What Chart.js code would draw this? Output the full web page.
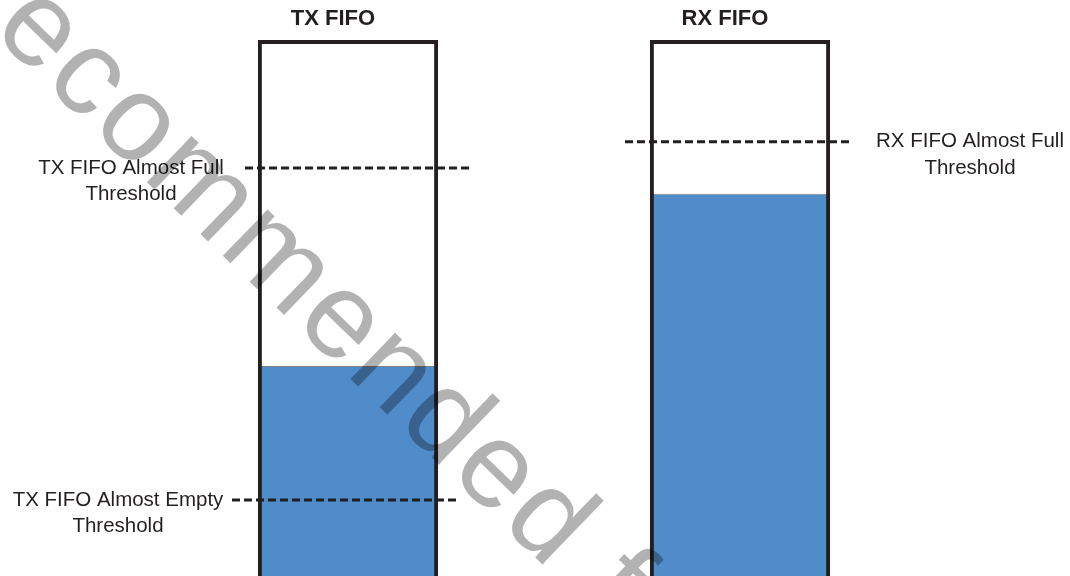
<!DOCTYPE html>
<html>
<head>
<meta charset="utf-8">
<title>TX / RX FIFO thresholds</title>
<style>
  html, body { margin: 0; padding: 0; background: #fff; overflow: hidden; }
</style>
</head>
<body>
<canvas id="fifoChart" width="1070" height="576"></canvas>
<script src="https://cdn.jsdelivr.net/npm/chart.js@4/dist/chart.umd.min.js"></script>
<script>
// data (units: % of the visible FIFO depth)
const fifoNames = ['TX FIFO', 'RX FIFO'];
const fifoDepth = [100, 100];
const fillLevel = [39.2, 71.3];

const thresholdFifo = [0, 0, 1];
const thresholdValues = [76.1, 14.2, 81.0];
const thresholdLabels = [
  ['TX FIFO Almost Full', 'Threshold'],
  ['TX FIFO Almost Empty', 'Threshold'],
  ['RX FIFO Almost Full', 'Threshold']
];

const watermark = 'Not recommended for new designs';

// layout only
const lineShift = [9.5, -3.5, -2.5];
const labelShift = [-217, -230, 230];
const ink = '#231f20';

const thresholdPlugin = {
  id: 'thresholds',
  afterDatasetsDraw(chart) {
    const ctx = chart.ctx;
    const meta = chart.getDatasetMeta(1);
    const yScale = chart.scales.y;
    ctx.save();
    thresholdValues.forEach((v, i) => {
      const bar = meta.data[thresholdFifo[i]];
      const py = yScale.getPixelForValue(v);
      const cx = bar.x + lineShift[i];
      ctx.setLineDash([8, 4]);
      ctx.lineWidth = 3;
      ctx.strokeStyle = ink;
      ctx.beginPath();
      ctx.moveTo(cx - 112.5, py);
      ctx.lineTo(cx + 112.5, py);
      ctx.stroke();

      ctx.setLineDash([]);
      ctx.fillStyle = ink;
      ctx.font = '20.5px "Liberation Sans", Arial, sans-serif';
      ctx.textAlign = 'center';
      ctx.textBaseline = 'middle';
      thresholdLabels[i].forEach((t, j) => {
        ctx.fillText(t, bar.x + labelShift[i], py + j * 26.5);
      });
    });
    ctx.restore();
  }
};

const watermarkPlugin = {
  id: 'watermark',
  afterDraw(chart) {
    const ctx = chart.ctx;
    ctx.save();
    ctx.translate(-214, -166);
    ctx.rotate(44 * Math.PI / 180);
    ctx.font = '122px "Liberation Sans", Arial, sans-serif';
    ctx.letterSpacing = '4px';
    ctx.fillStyle = 'rgba(0,0,0,0.3)';
    ctx.textBaseline = 'alphabetic';
    ctx.fillText(watermark, 0, 0);
    ctx.restore();
  }
};

const ctx = document.querySelector('#fifoChart');

const fifoChart = new Chart(ctx, {
  type: 'bar',
  data: {
    labels: fifoNames,
    datasets: [{
      label: 'Fill level',
      data: fillLevel,
      backgroundColor: '#518cca',
      borderColor: '#808080',
      borderWidth: { top: 1, left: 0, right: 0, bottom: 0 },
      borderSkipped: 'bottom',
      grouped: false,
      order: 2,
      barPercentage: 0.46,
      categoryPercentage: 1
    }, {
      label: 'FIFO depth',
      data: fifoDepth,
      backgroundColor: 'rgba(0,0,0,0)',
      borderColor: ink,
      borderWidth: 4,
      borderSkipped: 'bottom',
      grouped: false,
      order: 1,
      barPercentage: 0.46,
      categoryPercentage: 1
    }]
  },
  options: {
    responsive: false,
    animation: false,
    layout: { padding: { left: 152, right: 134, top: 0, bottom: 0 } },
    plugins: {
      legend: { display: false },
      tooltip: { enabled: false }
    },
    scales: {
      x: {
        position: 'top',
        offset: true,
        grid: { display: false, drawTicks: false },
        border: { display: false },
        ticks: {
          color: ink,
          padding: 8,
          labelOffset: -15,
          maxRotation: 0,
          font: { family: '"Liberation Sans", Arial, sans-serif', size: 22, weight: 'bold' }
        },
        afterFit: axis => { axis.height = 40; }
      },
      y: {
        display: false,
        min: 0,
        max: 100
      }
    }
  },
  plugins: [thresholdPlugin, watermarkPlugin]
});
</script>
</body>
</html>
